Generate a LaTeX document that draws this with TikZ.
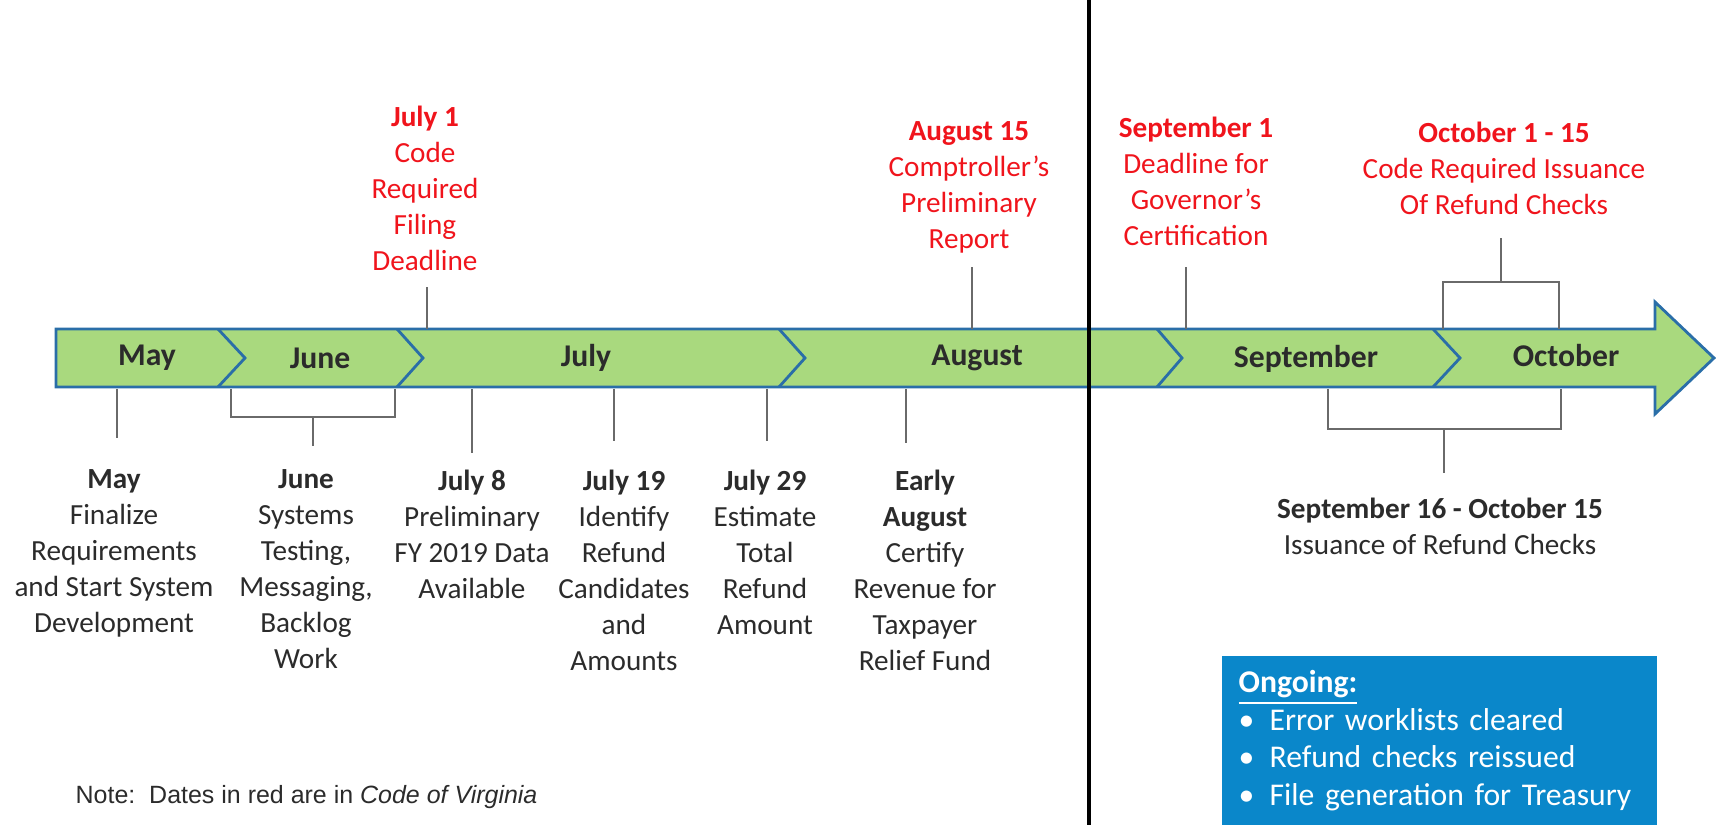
\documentclass[tikz,border=0pt]{standalone}
\usepackage{fontspec}
\setmainfont{Carlito}
\newfontfamily\notefont{Liberation Sans}
\definecolor{bargreen}{HTML}{A9D97E}
\definecolor{barblue}{HTML}{2A6EA8}
\definecolor{codered}{HTML}{F0141C}
\definecolor{textgray}{HTML}{2B2B2B}
\definecolor{linegray}{HTML}{6A6A6A}
\definecolor{boxblue}{HTML}{0A87CA}
\tikzset{
  tickline/.style={linegray, line width=0.45pt},
  monthlbl/.style={font=\fontsize{9}{11}\selectfont\bfseries, text=textgray},
  redlbl/.style={font=\fontsize{8.3}{10.24}\selectfont, text=codered, align=center, anchor=north, inner sep=0pt},
  eventlbl/.style={font=\fontsize{8.3}{10.24}\selectfont, text=textgray, align=center, anchor=north, inner sep=0pt}
}
\begin{document}
\begin{tikzpicture}[x=0.01cm, y=-0.01cm]
\useasboundingbox (0,0) rectangle (1716,825);
\draw[barblue, fill=bargreen, line width=0.8pt, line join=miter] (56,329) -- (1655,329) -- (1655,302) -- (1714,358) -- (1655,414) -- (1655,387) -- (56,387) -- cycle;
\draw[barblue, line width=0.8pt] (218,329) -- (245,358) -- (218,387);
\draw[barblue, line width=0.8pt] (397,329) -- (423,358) -- (397,387);
\draw[barblue, line width=0.8pt] (779,329) -- (805,358) -- (779,387);
\draw[barblue, line width=0.8pt] (1157,329) -- (1182,358) -- (1157,387);
\draw[barblue, line width=0.8pt] (1433,329) -- (1460,358) -- (1433,387);
\node[monthlbl] (m-may) at (147,358) {May};
\node[monthlbl] (m-jun) at (320,358) {June};
\node[monthlbl] (m-jul) at (586,358) {July};
\node[monthlbl] (m-aug) at (977,358) {August};
\node[monthlbl] (m-sep) at (1306,359) {September};
\node[monthlbl] (m-oct) at (1566,356) {October};
\node[redlbl] (jul1) at (425,105) {\textbf{July 1}\\Code\\Required\\Filing\\Deadline};
\node[redlbl] (aug15) at (969,121) {\textbf{August 15}\\Comptroller’s\\Preliminary\\Report};
\node[redlbl] (sep1) at (1196,116) {\textbf{September 1}\\Deadline for\\Governor’s\\Certification};
\node[redlbl] (oct1) at (1504,121) {\textbf{October 1 - 15}\\Code Required Issuance\\Of Refund Checks};
\node[eventlbl] (may) at (114,469) {\textbf{May}\\Finalize\\Requirements\\and Start System\\Development};
\node[eventlbl] (jun) at (306,469) {\textbf{June}\\Systems\\Testing,\\Messaging,\\Backlog\\Work};
\node[eventlbl] (jul8) at (472,469) {\textbf{July 8}\\Preliminary\\FY 2019 Data\\Available};
\node[eventlbl] (jul19) at (624,469) {\textbf{July 19}\\Identify\\Refund\\Candidates\\and\\Amounts};
\node[eventlbl] (jul29) at (765,469) {\textbf{July 29}\\Estimate\\Total\\Refund\\Amount};
\node[eventlbl] (earlyaug) at (925,469) {\textbf{Early}\\\textbf{August}\\Certify\\Revenue for\\Taxpayer\\Relief Fund};
\node[eventlbl] (sepoct) at (1440,497) {\textbf{September 16 - October 15}\\Issuance of Refund Checks};
\coordinate (jul1-t) at (427,329);
\coordinate (aug15-t) at (972,329);
\coordinate (sep1-t) at (1186,329);
\coordinate (oct-l) at (1443,329);
\coordinate (oct-r) at (1559,329);
\coordinate (oct-m) at (1501,282);
\coordinate (may-t) at (117,389);
\coordinate (jun-l) at (231,389);
\coordinate (jun-r) at (395,389);
\coordinate (jun-m) at (313,417);
\coordinate (jul8-t) at (472,389);
\coordinate (jul19-t) at (614,389);
\coordinate (jul29-t) at (767,389);
\coordinate (earlyaug-t) at (906,389);
\coordinate (sepoct-l) at (1328,389);
\coordinate (sepoct-r) at (1561,389);
\coordinate (sepoct-m) at (1444,429);
\draw[tickline] (jul1-t) -- ++(0,-42);
\draw[tickline] (aug15-t) -- ++(0,-62);
\draw[tickline] (sep1-t) -- ++(0,-62);
\draw[tickline] (oct-l) |- (oct-m) -| (oct-r);
\draw[tickline] (oct-m) -- ++(0,-44);
\draw[tickline] (may-t) -- ++(0,49);
\draw[tickline] (jun-l) |- (jun-m) -| (jun-r);
\draw[tickline] (jun-m) -- ++(0,29);
\draw[tickline] (jul8-t) -- ++(0,64);
\draw[tickline] (jul19-t) -- ++(0,52);
\draw[tickline] (jul29-t) -- ++(0,52);
\draw[tickline] (earlyaug-t) -- ++(0,54);
\draw[tickline] (sepoct-l) |- (sepoct-m) -| (sepoct-r);
\draw[tickline] (sepoct-m) -- ++(0,44);
\draw[black, line width=1.3pt] (1089,0) -- (1089,825);
\node[fill=boxblue, text=white, anchor=north west, minimum width=4.35cm, minimum height=1.7cm, inner xsep=0.17cm, inner ysep=0pt, text width=4.01cm, align=left, font=\fontsize{9}{10.7}\selectfont] (ongoing) at (1221,655) {\underline{\textbf{Ongoing:}}\\
\makebox[8.8pt][l]{\textbullet}Error worklists cleared\\
\makebox[8.8pt][l]{\textbullet}Refund checks reissued\\
\makebox[8.8pt][l]{\textbullet}File generation for Treasury};
\node[anchor=west, inner sep=0pt, text=textgray, font=\notefont\fontsize{7.1}{8.5}\selectfont] (note) at (75,797) {Note:\ \ Dates in red are in \textit{Code of Virginia}};
\end{tikzpicture}
\end{document}
